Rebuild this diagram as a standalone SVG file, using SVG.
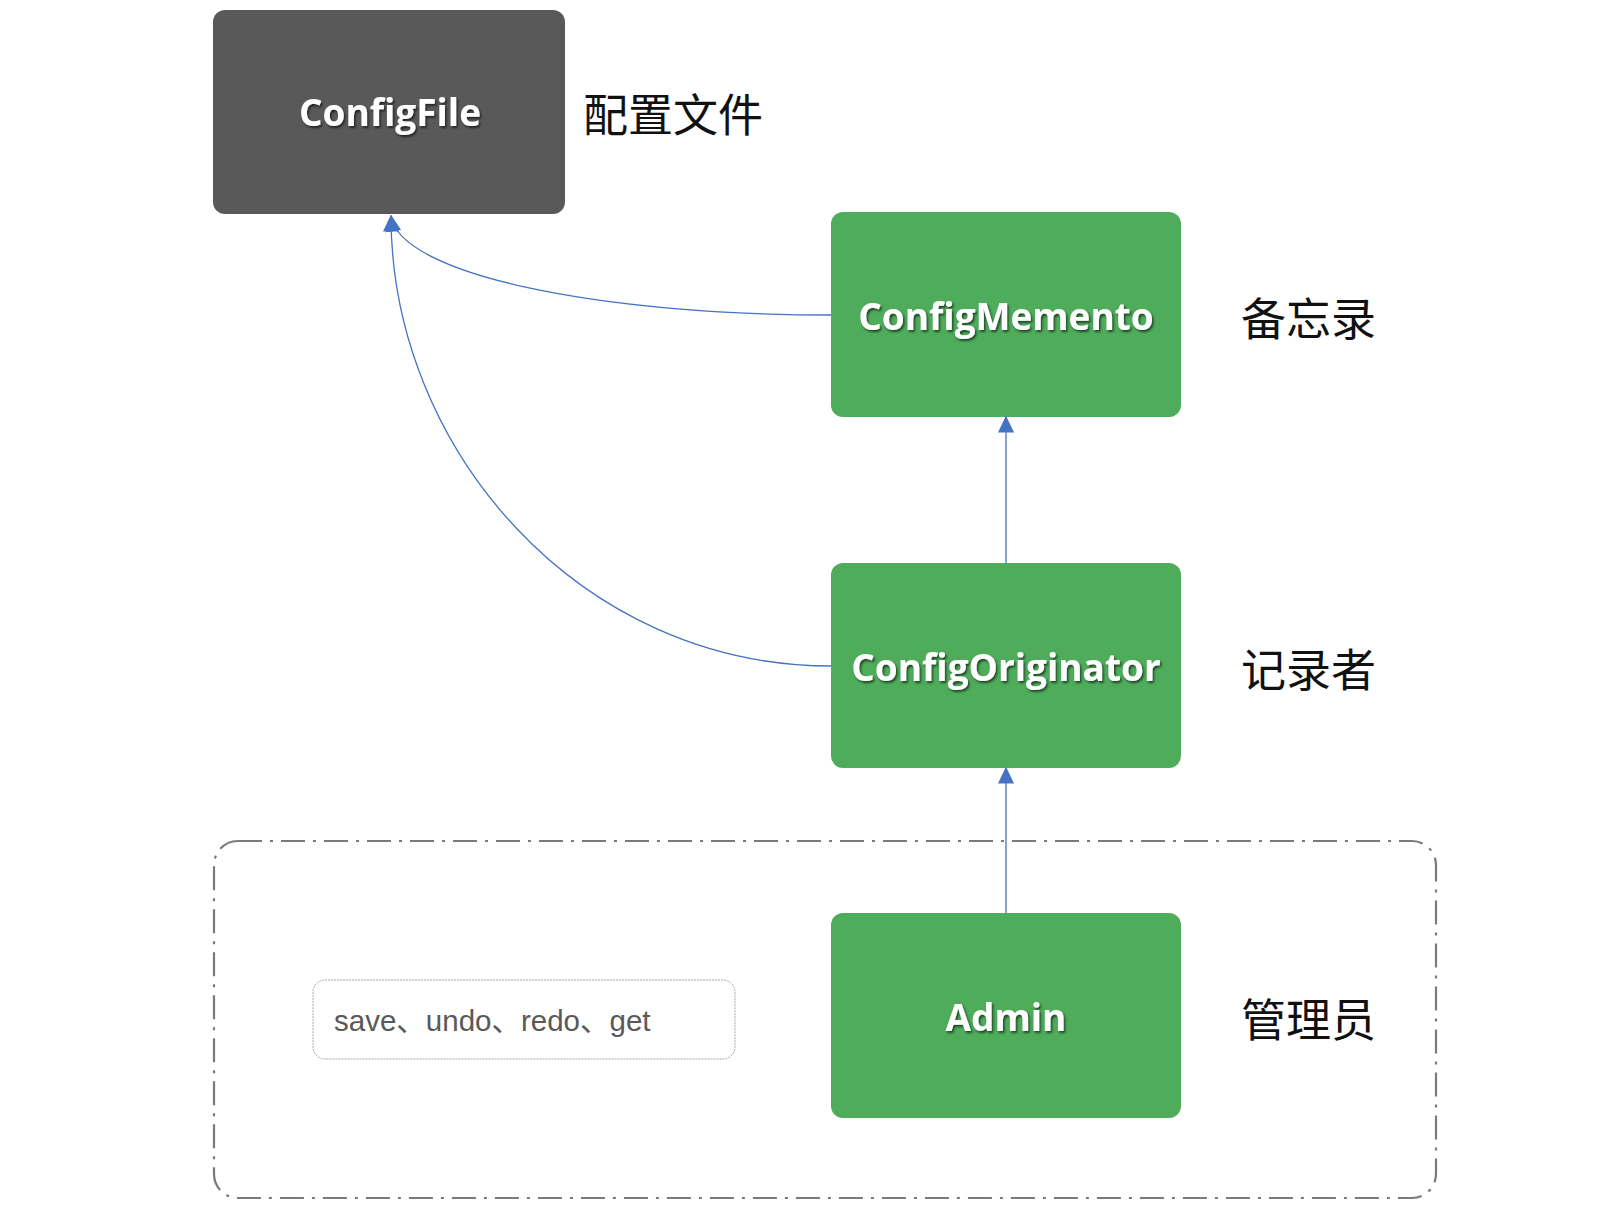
<svg xmlns="http://www.w3.org/2000/svg" width="1616" height="1210" viewBox="0 0 1616 1210">
<defs>
<filter id="ts" x="-10%" y="-30%" width="120%" height="160%">
<feDropShadow dx="1.5" dy="2" stdDeviation="1.2" flood-color="#000" flood-opacity="0.6"/>
</filter>
<marker id="ah" viewBox="0 0 12 12" refX="11" refY="6" markerWidth="17" markerHeight="16" markerUnits="userSpaceOnUse" orient="auto" preserveAspectRatio="none">
<path d="M0,0 L12,6 L0,12 z" fill="#4472C4"/>
</marker>
<style>
.node{fill:#4EAC5B}
.dark{fill:#595959}
.lbl{font-family:"Open Sans","Noto Sans",sans-serif;font-weight:bold;font-size:37px;fill:#fff;text-anchor:middle;dominant-baseline:central}
.cn{font-family:"Noto Sans CJK SC",sans-serif;font-size:45px;fill:#111;dominant-baseline:central}
.conn{fill:none;stroke:#4472C4;stroke-width:1.3;marker-end:url(#ah)}
</style>
</defs>
<rect width="1616" height="1210" fill="#fff"/>
<g id="admin-group">
<rect x="214" y="841" width="1222" height="357" rx="24" fill="none" stroke="#7a7a7a" stroke-width="2.2" stroke-dasharray="24,8,3,8"/>
</g>
<g id="configfile">
<rect class="dark" x="213" y="10" width="352" height="204" rx="12"/>
<text class="lbl" x="390" y="111" filter="url(#ts)">ConfigFile</text>
<text class="cn" x="583" y="112">配置文件</text>
</g>
<g id="configmemento">
<rect class="node" x="831" y="212" width="350" height="205" rx="12"/>
<text class="lbl" x="1006" y="315" filter="url(#ts)">ConfigMemento</text>
<text class="cn" x="1241" y="316">备忘录</text>
</g>
<g id="configoriginator">
<rect class="node" x="831" y="563" width="350" height="205" rx="12"/>
<text class="lbl" x="1006" y="666" filter="url(#ts)">ConfigOriginator</text>
<text class="cn" x="1241" y="667">记录者</text>
</g>
<g id="admin">
<rect class="node" x="831" y="913" width="350" height="205" rx="12"/>
<text class="lbl" x="1006" y="1016" filter="url(#ts)">Admin</text>
<text class="cn" x="1241" y="1017">管理员</text>
</g>
<g id="methods">
<rect x="313" y="980" width="422" height="79" rx="12" fill="#fff" stroke="#a6a6a6" stroke-width="1" stroke-dasharray="2,1"/>
<text x="334" y="1020" font-family="'Liberation Sans','Noto Sans CJK SC',sans-serif" font-size="29.5" fill="#595959" dominant-baseline="central">save、undo、redo、get</text>
</g>
<g id="connectors">
<path class="conn" d="M831,315 C600,315 400,275 391,216"/>
<path class="conn" d="M831,666 C580,666 391,450 391,216"/>
<path class="conn" d="M1006,563 L1006,417"/>
<path class="conn" d="M1006,913 L1006,768"/>
</g>
</svg>
